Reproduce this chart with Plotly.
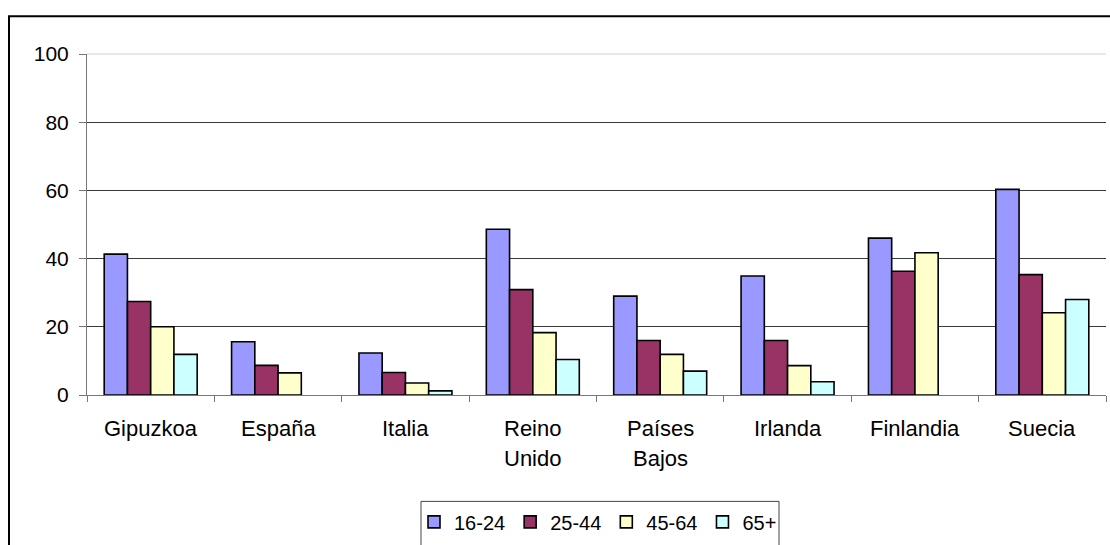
import plotly.graph_objects as go

# Share of population by age group, per region/country
categories = ["Gipuzkoa", "España", "Italia", "Reino Unido",
              "Países Bajos", "Irlanda", "Finlandia", "Suecia"]
label_lines = [["Gipuzkoa"], ["España"], ["Italia"], ["Reino", "Unido"],
               ["Países", "Bajos"], ["Irlanda"], ["Finlandia"], ["Suecia"]]

age_16_24 = [41.3, 15.6, 12.3, 48.6, 29.0, 34.9, 46.0, 60.3]
age_25_44 = [27.4, 8.7, 6.6, 30.9, 16.0, 16.0, 36.3, 35.3]
age_45_64 = [20.0, 6.5, 3.5, 18.3, 11.9, 8.6, 41.7, 24.1]
age_65_plus = [11.9, None, 1.2, 10.4, 7.0, 3.9, None, 28.0]

series = [
    ("16-24", age_16_24, "#9999FF"),
    ("25-44", age_25_44, "#993366"),
    ("45-64", age_45_64, "#FFFFCC"),
    ("65+", age_65_plus, "#CCFFFF"),
]

y_ticks = [0, 20, 40, 60, 80, 100]

FONT = "Liberation Sans, Arial, sans-serif"

# plot-area geometry in pixels
W, H = 1110, 545
L, R, T, B = 87, 4, 54, 148
PW, PH = W - L - R, H - T - B


def px_x(p):
    return (p - L) / PW


def px_y(p):
    return (H - B - p) / PH


fig = go.Figure()
for name, vals, color in series:
    fig.add_trace(go.Bar(
        x=categories, y=vals, name=name,
        marker=dict(color=color, line=dict(color="black", width=1.6)),
    ))

fig.update_layout(
    width=W, height=H,
    margin=dict(l=L, r=R, t=T, b=B, pad=0),
    paper_bgcolor="white", plot_bgcolor="white",
    barmode="group", bargap=0.27, bargroupgap=0,
    font=dict(family=FONT, color="black", size=20),
    showlegend=True,
    legend=dict(
        orientation="h", x=px_x(598), xanchor="center",
        y=px_y(505), yanchor="top",
        font=dict(family=FONT, size=20, color="black"),
        bgcolor="rgba(0,0,0,0)", borderwidth=0,
        traceorder="normal", itemwidth=30,
    ),
    xaxis=dict(
        type="category", showgrid=False, zeroline=False,
        showline=True, linecolor="#777", linewidth=1,
        ticks="outside", tickson="boundaries", ticklen=6,
        tickcolor="#777", showticklabels=False,
    ),
    yaxis=dict(
        range=[0, 100], tickvals=y_ticks, ticktext=[str(v) for v in y_ticks],
        showgrid=True, gridcolor="#3a3a3a", gridwidth=1, zeroline=False,
        showline=True, linecolor="#777", linewidth=1,
        ticks="outside", ticklen=7, tickcolor="#777",
        ticklabelstandoff=6,
        tickfont=dict(family=FONT, size=21, color="black"),
    ),
)

# pale top edge of the plot area
fig.add_shape(type="line", xref="paper", yref="y domain",
              x0=0, x1=1, y0=1, y1=1, layer="above",
              line=dict(color="#e8e8e8", width=2))

# category labels, one annotation per line
for cat, lines in zip(categories, label_lines):
    for i, line in enumerate(lines):
        fig.add_annotation(
            x=cat, xref="x", y=px_y(431 + 30 * i), yref="paper",
            text=line, showarrow=False, xanchor="center", yanchor="middle",
            font=dict(family=FONT, size=22, color="black"),
        )

# legend frame (runs past the lower edge of the page)
fig.add_shape(type="rect", xref="paper", yref="paper",
              x0=px_x(421), x1=px_x(779), y0=px_y(580), y1=px_y(504),
              line=dict(color="#444", width=1), fillcolor="rgba(0,0,0,0)")

# outer chart frame (left and top edges visible)
fig.add_shape(type="rect", xref="paper", yref="paper",
              x0=px_x(9), x1=px_x(1140), y0=px_y(600), y1=px_y(16),
              line=dict(color="black", width=2), fillcolor="rgba(0,0,0,0)")

fig.write_html("out.html")
